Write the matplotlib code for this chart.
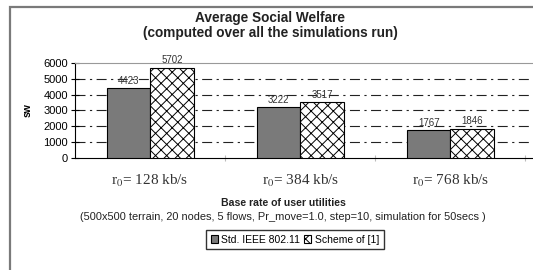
import numpy as np
import matplotlib.pyplot as plt
from matplotlib.patches import Rectangle

plt.rcParams['font.family'] = ['Liberation Sans', 'DejaVu Sans']
plt.rcParams['mathtext.fontset'] = 'stix'
plt.rcParams['hatch.linewidth'] = 0.7

categories = ['r$_0$= 128 kb/s', 'r$_0$= 384 kb/s', 'r$_0$= 768 kb/s']
std_ieee = [4423, 3222, 1767]
scheme = [5702, 3517, 1846]
series_names = ['Std. IEEE 802.11', 'Scheme of [1]']

fig = plt.figure(figsize=(5.33, 2.70), dpi=100)
ax = fig.add_axes([0.1407, 0.415, 0.8593, 0.352])

# outer chart frame (cropped at right and bottom like the original)
fig.patches.append(Rectangle((10 / 533, -0.1), 1.2, (270 - 7) / 270 + 0.1,
                             transform=fig.transFigure, fill=False,
                             edgecolor='#7a7a7a', linewidth=1.6))

x = np.arange(len(categories)) + 0.5
w = 0.29
b1 = ax.bar(x - w / 2, std_ieee, w, color='#7a7a7a', edgecolor='black',
            linewidth=0.8, label=series_names[0], zorder=3)
b2 = ax.bar(x + w / 2, scheme, w, color='white', edgecolor='black',
            hatch='xxx', linewidth=0.8, label=series_names[1], zorder=3)

for bars in (b1, b2):
    for r in bars:
        ax.text(r.get_x() + r.get_width() / 2, r.get_height() + 150,
                str(int(r.get_height())), ha='center', va='bottom',
                fontsize=7, color='#333333')

ax.set_ylim(0, 6000)
ax.set_xlim(0, 3.05)
ax.set_yticks(range(0, 6001, 1000))
ax.tick_params(axis='y', direction='inout', length=6, labelsize=8, pad=2)
for yv in range(1000, 6000, 1000):
    ax.axhline(yv, color='#222222', linewidth=0.8, dashes=(9, 4, 2, 4), zorder=1)

ax.set_xticks([1, 2, 3])
ax.set_xticklabels([])
ax.tick_params(axis='x', direction='inout', length=4, color='#bbbbbb')
for xi, lab in zip(x, categories):
    ax.text(xi, -950, lab, ha='center', va='top', fontsize=11,
            family='Liberation Serif', color='#333333')

ax.spines['right'].set_visible(False)
ax.spines['top'].set_color('#999999')
ax.spines['top'].set_linewidth(0.8)

ax.set_ylabel('sw', fontsize=7.5, fontweight='bold', labelpad=8)

fig.text(0.507, 0.935, 'Average Social Welfare', ha='center', va='center',
         fontsize=9.8, fontweight='bold', color='#222222')
fig.text(0.507, 0.878, '(computed over all the simulations run)', ha='center',
         va='center', fontsize=9.8, fontweight='bold', color='#222222')

fig.text(0.531, 0.25, 'Base rate of user utilities', ha='center', va='center',
         fontsize=7.6, fontweight='bold', color='#222222')
fig.text(0.531, 0.197, '(500x500 terrain, 20 nodes, 5 flows, Pr_move=1.0, step=10, simulation for 50secs )',
         ha='center', va='center', fontsize=7.9, color='#222222')

fig.legend(handles=[b1, b2], loc='center', bbox_to_anchor=(0.553, 0.112),
           ncol=2, fontsize=7.5, frameon=True, fancybox=False, edgecolor='black',
           handlelength=0.7, handleheight=0.7, handletextpad=0.3,
           columnspacing=0.4, borderpad=0.45)

fig.savefig('out.png', dpi=100)
